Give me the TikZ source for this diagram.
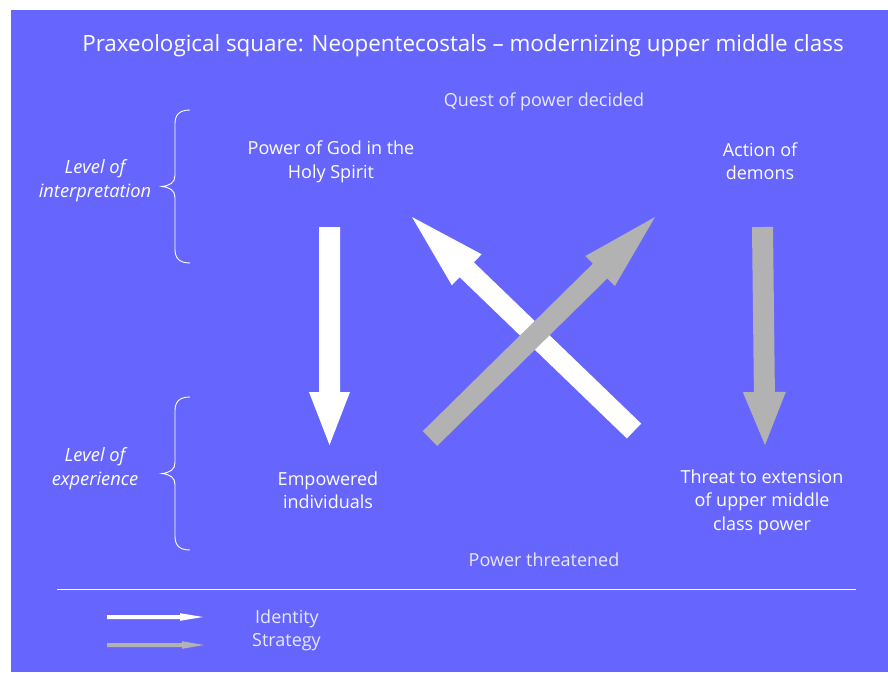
\documentclass[tikz,border=0pt]{standalone}
\usepackage{fontspec}
\setmainfont{Open Sans}
\usetikzlibrary{calc}
\definecolor{bgblue}{RGB}{102,102,255}
\definecolor{arrgray}{RGB}{178,178,178}
\definecolor{softwhite}{RGB}{232,232,255}
\newcommand\fatarrow[6]{% colour, tail, tip, half shaft, half head, head length
  \coordinate (hb) at ($(#3)!#6!(#2)$);
  \fill[#1] ($(#2)!#4!90:(#3)$) -- ($(hb)!#4!90:(#3)$) -- ($(hb)!#5!90:(#3)$) -- (#3)
    -- ($(hb)!#5!-90:(#3)$) -- ($(hb)!#4!-90:(#3)$) -- ($(#2)!#4!-90:(#3)$) -- cycle;
}
\newcommand\levelbrace[3]{% x of tip, y top, y bottom
  \draw[white, line width=0.9pt]
    ($(#1+28,#2)$) .. controls ($(#1+17,#2)$) and ($(#1+13,#2+5)$) .. ($(#1+13,#2+14)$)
    -- ($(#1+13,{(#2+#3)/2-11})$)
    .. controls ($(#1+13,{(#2+#3)/2-4})$) and ($(#1+8,{(#2+#3)/2-1})$) .. ($(#1,{(#2+#3)/2})$)
    .. controls ($(#1+8,{(#2+#3)/2+1})$) and ($(#1+13,{(#2+#3)/2+4})$) .. ($(#1+13,{(#2+#3)/2+11})$)
    -- ($(#1+13,#3-14)$)
    .. controls ($(#1+13,#3-5)$) and ($(#1+17,#3)$) .. ($(#1+28,#3)$);
}
\tikzset{
  lbl/.style={text=white, align=center, inner sep=0pt, font=\fontsize{18}{23.5}\selectfont},
  lvl/.style={text=white, align=center, inner sep=0pt, font=\fontsize{18.3}{24}\selectfont\itshape},
  soft/.style={text=softwhite, inner sep=0pt, font=\fontsize{18}{22}\selectfont},
}
\begin{document}
\begin{tikzpicture}[x=1pt,y=-1pt]
\useasboundingbox (0,0) rectangle (888,672);
\fill[white] (0,0) rectangle (888,672);
\fill[bgblue] (11,10) rectangle (888,672);

\node[text=white, inner sep=0pt, font=\fontsize{22.4}{26}\selectfont] (title) at (463,46)
  {Praxeological square: Neopentecostals – modernizing upper middle class};

\node[soft] (decided) at (544,102) {Quest of power decided};
\node[soft] (threat) at (544,560) {Power threatened};

\node[lbl] (god) at (331,162) {Power of God in the\\Holy Spirit};
\node[lbl] (demons) at (760,161) {Action of\\demons};
\node[lbl] (empow) at (328,490) {Empowered\\individuals};
\node[lbl] (ext) at (762,502) {Threat to extension\\of upper middle\\class power};

\node[lvl] (interp) at (95,181) {Level of\\interpretation};
\node[lvl] (exper) at (95,469) {Level of\\experience};

\levelbrace{162}{110}{263}
\levelbrace{162}{397}{550}

% vertical arrows
\coordinate (g1) at (329.5,227); \coordinate (g2) at (329.5,445);
\fatarrow{white}{g1}{g2}{10.5pt}{20.5pt}{53pt}
\coordinate (d1) at (762.5,227); \coordinate (d2) at (765,445);
\fatarrow{arrgray}{d1}{d2}{10.5pt}{21.5pt}{53pt}

% diagonal arrows
\coordinate (w1) at (634,431); \coordinate (w2) at (412,217);
\fatarrow{white}{w1}{w2}{10.3pt}{21.5pt}{76pt}
\coordinate (s1) at (430,438.5); \coordinate (s2) at (655,217);
\fatarrow{arrgray}{s1}{s2}{10.3pt}{21pt}{77pt}

% legend
\coordinate (rl) at (57,589); \coordinate (rr) at (856,589);
\draw[white, line width=1pt] (rl) -- (rr);
\coordinate (li1) at (107,617); \coordinate (li2) at (203,617);
\fatarrow{white}{li1}{li2}{2pt}{3.8pt}{23pt}
\coordinate (ls1) at (107,645); \coordinate (ls2) at (204,645);
\fatarrow{arrgray}{ls1}{ls2}{2pt}{3.8pt}{22pt}
\node[soft, anchor=west] (ident) at (255,619) {Identity};
\node[soft, anchor=west] (strat) at (252,642) {Strategy};
\end{tikzpicture}
\end{document}
